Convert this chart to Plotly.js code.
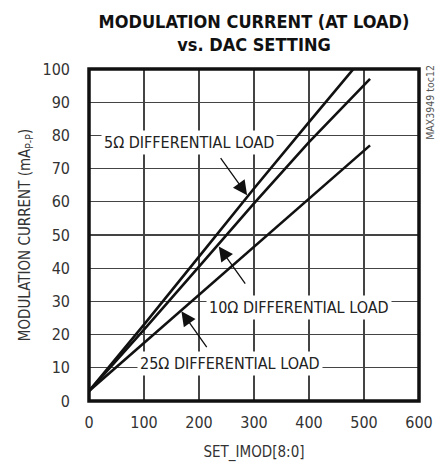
<!DOCTYPE html>
<html>
<head>
<meta charset="utf-8">
<script src="https://cdn.plot.ly/plotly-3.0.1.min.js"></script>
<style>
html,body{margin:0;padding:0;background:#fff;}
#chart{width:446px;height:462px;}
</style>
</head>
<body>
<div id="chart"></div>
<script>
// DAC setting (SET_IMOD[8:0])
const dacSetting = [0, 100, 200, 300, 400, 511];
// Modulation current at load (mA P-P)
const load5ohm  = [3, 23, 43.5, 64, 84, 106];
const load10ohm = [3, 21.5, 40.5, 59.5, 78, 97];
const load25ohm = [3, 17.5, 32, 46.5, 61, 77];

const seriesNames = ['5Ω DIFFERENTIAL LOAD', '10Ω DIFFERENTIAL LOAD', '25Ω DIFFERENTIAL LOAD'];
const xTicks = [0, 100, 200, 300, 400, 500, 600];
const yTicks = [0, 10, 20, 30, 40, 50, 60, 70, 80, 90, 100];

// label text positions and arrow (tail -> tip) in data units
const labelPos = [[181, 78], [381, 28.1], [255.6, 11.4]];
const arrowTail = [[237.4, 73.6], [286, 34.9], [216, 15.8]];
const arrowTip  = [[287.5, 62], [236, 46.5], [168, 27]];

const FONT = '"Liberation Sans Narrow", "DejaVu Sans Condensed", Arial, sans-serif';

const allY = [load5ohm, load10ohm, load25ohm];
const traces = allY.map((ys, i) => ({
  x: dacSetting, y: ys, type: 'scatter', mode: 'lines', name: seriesNames[i],
  line: {color: '#111', width: 2.6}, hoverinfo: 'skip'
}));

const annotations = [];
seriesNames.forEach((t, i) => {
  annotations.push({
    x: labelPos[i][0], y: labelPos[i][1], xref: 'x', yref: 'y',
    text: t, showarrow: false, bgcolor: '#fff', borderpad: 2,
    font: {family: FONT, size: 16, color: '#222'}
  });
  annotations.push({
    x: arrowTip[i][0], y: arrowTip[i][1], xref: 'x', yref: 'y',
    ax: arrowTail[i][0], ay: arrowTail[i][1], axref: 'x', ayref: 'y',
    text: '', showarrow: true, arrowhead: 2, arrowsize: 2.2, arrowwidth: 1.3,
    arrowcolor: '#111'
  });
});
annotations.push({
  xref: 'paper', yref: 'paper', x: (430 - 89) / 330, y: (400.7 - 102.5) / 332,
  xanchor: 'center', yanchor: 'middle',
  text: 'MAX3949 toc12', showarrow: false, textangle: -90,
  font: {family: FONT, size: 10.5, color: '#555'}
});

const layout = {
  width: 446, height: 462,
  margin: {l: 89, r: 27, t: 69, b: 61},
  paper_bgcolor: '#fff', plot_bgcolor: '#fff',
  showlegend: false,
  title: {
    text: '<b>MODULATION CURRENT (AT LOAD)</b><br><b>vs. DAC SETTING</b>',
    font: {family: FONT, size: 18, color: '#111'},
    x: 0.5, xref: 'paper', y: 1 - 28/462, yref: 'container', yanchor: 'middle'
  },
  xaxis: {
    range: [0, 600], tickvals: xTicks, ticktext: xTicks.map(String),
    showgrid: true, gridcolor: '#444', gridwidth: 1.2, zeroline: false,
    showline: false, ticks: '', ticklabelstandoff: 10,
    tickfont: {family: FONT, size: 16, color: '#333'},
    title: {text: 'SET_IMOD[8:0]', font: {family: FONT, size: 15, color: '#333'}, standoff: 17}
  },
  yaxis: {
    range: [0, 100], tickvals: yTicks, ticktext: yTicks.map(String),
    showgrid: true, gridcolor: '#444', gridwidth: 1.2, zeroline: false,
    showline: false, ticks: '', ticklabelstandoff: 18,
    tickfont: {family: FONT, size: 16, color: '#333'},
    title: {text: 'MODULATION CURRENT (mA<sub>P-P</sub>)', font: {family: FONT, size: 15, color: '#333'}, standoff: 8}
  },
  shapes: [{
    type: 'rect', xref: 'paper', yref: 'paper', x0: 0, x1: 1, y0: 0, y1: 1,
    line: {color: '#111', width: 3.5}, layer: 'above'
  }],
  annotations: annotations
};

Plotly.newPlot('chart', traces, layout, {staticPlot: true, displayModeBar: false});
</script>
</body>
</html>
